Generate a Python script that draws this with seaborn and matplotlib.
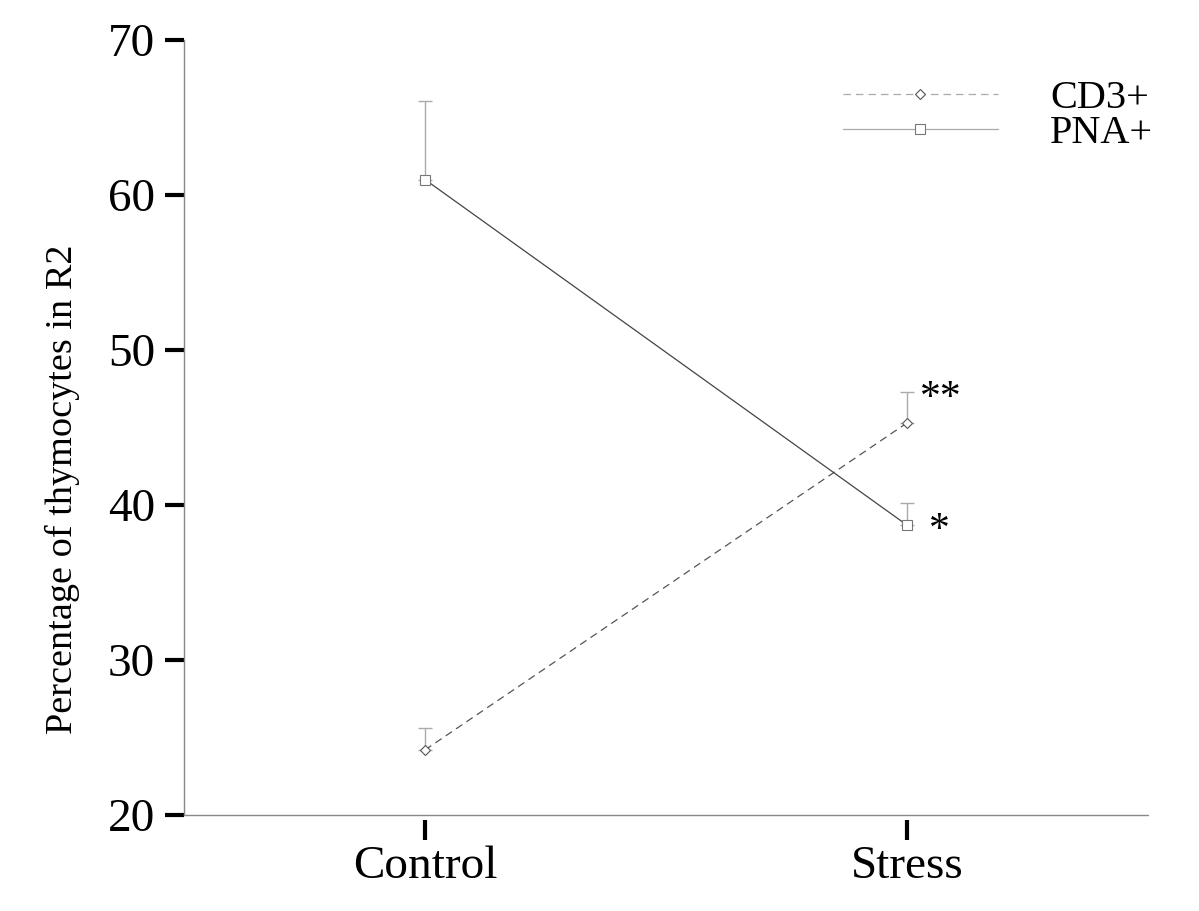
import numpy as np
import pandas as pd
import matplotlib
matplotlib.use("Agg")
import matplotlib.pyplot as plt
import seaborn as sns

# Data
groups = ["Control", "Stress"]
cd3_mean = [24.2, 45.3]
cd3_err = [1.4, 2.0]
pna_mean = [61.0, 38.7]
pna_err = [5.1, 1.4]
stars = ["**", "*"]  # significance at Stress for CD3+ / PNA+

sns.set_style("white")
plt.rcParams["font.family"] = ["Liberation Serif", "DejaVu Serif"]
plt.rcParams["text.color"] = "black"
plt.rcParams["axes.labelcolor"] = "black"
plt.rcParams["xtick.color"] = "black"
plt.rcParams["ytick.color"] = "black"

df = pd.DataFrame({
    "group": groups * 2,
    "value": cd3_mean + pna_mean,
    "series": ["CD3+"] * 2 + ["PNA+"] * 2,
})

fig = plt.figure(figsize=(11.99, 9.11), dpi=100)
ax = fig.add_axes([0.1535, 0.1054, 0.804, 0.8506])

xpos = np.arange(len(groups))

# Error bars (upper only)
ax.errorbar(xpos, cd3_mean, yerr=[[0] * 2, cd3_err], fmt="none",
            ecolor="#aaaaaa", elinewidth=1, capsize=5, capthick=1, zorder=1)
ax.errorbar(xpos, pna_mean, yerr=[[0] * 2, pna_err], fmt="none",
            ecolor="#aaaaaa", elinewidth=1, capsize=5, capthick=1, zorder=1)

sub = df[df["series"] == "CD3+"]
sns.lineplot(x=xpos, y=sub["value"].values, ax=ax, color="#555555",
             linewidth=0.9, linestyle=(0, (6, 4)), marker="D", markersize=5,
             markerfacecolor="white", markeredgecolor="#555555",
             markeredgewidth=0.8, label="CD3+", zorder=3)
sub = df[df["series"] == "PNA+"]
sns.lineplot(x=xpos, y=sub["value"].values, ax=ax, color="#444444",
             linewidth=0.9, marker="s", markersize=7,
             markerfacecolor="white", markeredgecolor="#777777",
             markeredgewidth=0.8, label="PNA+", zorder=3)

# significance stars
ax.annotate(stars[0], (xpos[1], cd3_mean[1] + cd3_err[1]), xytext=(9, -5),
            textcoords="offset points", fontsize=30, ha="left", va="center")
ax.annotate(stars[1], (xpos[1], pna_mean[1]), xytext=(16, -4),
            textcoords="offset points", fontsize=30, ha="left", va="center")

ax.set_xlim(-0.5, 1.5)
ax.set_ylim(20, 70)
ax.set_xticks(xpos)
ax.set_xticklabels(groups)
ax.set_yticks(np.arange(20, 71, 10))

for s in ["top", "right"]:
    ax.spines[s].set_visible(False)
ax.spines["left"].set_color("#888888")
ax.spines["left"].set_linewidth(1)
# detached x ticks: move spine outward, draw visible baseline separately
ax.spines["bottom"].set_position(("outward", 3.5))
ax.spines["bottom"].set_visible(False)
ax.axhline(20, color="#888888", linewidth=1, clip_on=False, zorder=0)

ax.tick_params(axis="y", direction="out", length=14, width=3, color="black",
               labelsize=34, pad=7, left=True)
ax.tick_params(axis="x", direction="out", length=14.5, width=3, color="black",
               labelsize=34, pad=4, bottom=True)

ax.set_xlabel("")
ax.set_ylabel("Percentage of thymocytes in R2", fontsize=27.5)
ax.yaxis.set_label_coords(-0.108, 0.42)

leg = ax.legend(loc="upper right", bbox_to_anchor=(1.022, 0.97), frameon=False,
                fontsize=29, handlelength=3.85, handletextpad=1.3,
                labelspacing=-0.05, borderaxespad=0.0)
for h in leg.get_lines():
    h.set_color("#aaaaaa")

fig.savefig("out.png", dpi=100)
